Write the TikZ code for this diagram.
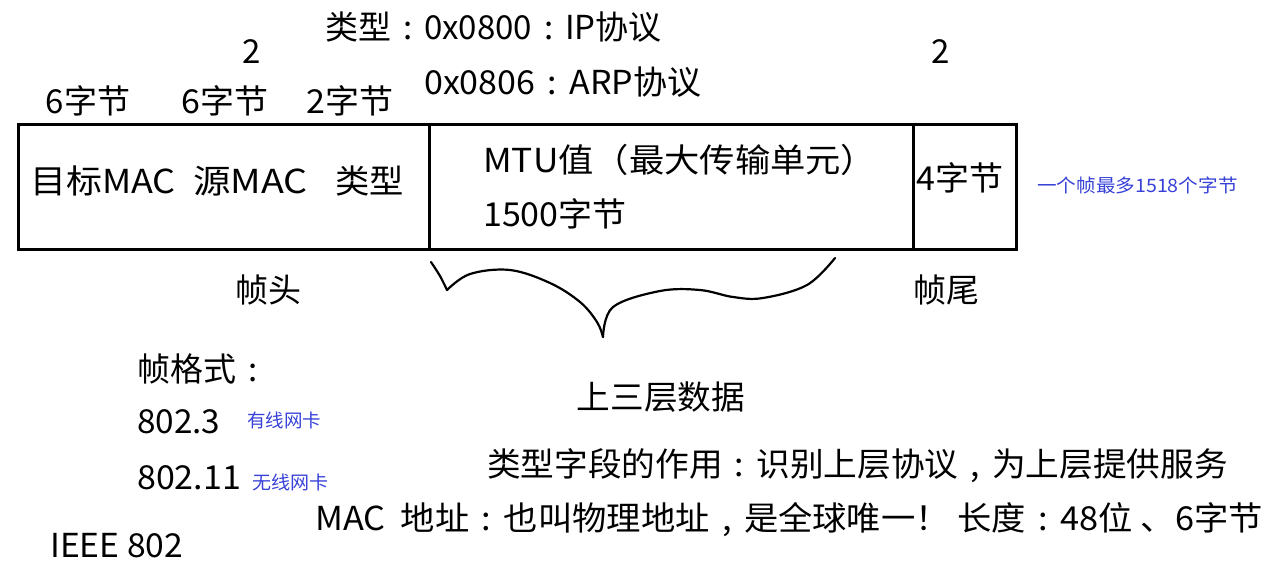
\documentclass[tikz,border=0pt]{standalone}
\usepackage{fontspec}
\usepackage{graphicx}
\setmainfont{Noto Sans CJK SC}
\definecolor{noteblue}{RGB}{55,65,215}
\newcommand\hs[2]{\scalebox{#1}[1]{#2}}
\newcommand\cln{\makebox[1em]{:}}
\newcommand\cma{\makebox[1em]{,}}
\begin{document}
\begin{tikzpicture}[x=1pt,y=-1pt,
  txt/.style={inner sep=0pt,font=\fontsize{33}{38}\selectfont},
  note/.style={inner sep=0pt,text=noteblue,font=\fontsize{18.5}{22}\selectfont},
  frame/.style={draw=black,line width=3pt},
  brace/.style={draw=black,line width=2.2pt,line cap=round,line join=round}]
\useasboundingbox (0,0) rectangle (1280,582);
% frame boxes
\node[frame,minimum width=411pt,minimum height=125pt,inner sep=0pt,anchor=north west] (hdr) at (17,123) {};
\node[frame,minimum width=484pt,minimum height=125pt,inner sep=0pt,anchor=north west] (data) at (428,123) {};
\node[frame,minimum width=103pt,minimum height=125pt,inner sep=0pt,anchor=north west] (tail) at (912,123) {};
% header texts
\node[txt,anchor=west] (dst) at (30,181) {\hs{1.09}{目标MAC}};
\node[txt,anchor=west] (src) at (193,181) {\hs{1.14}{源MAC}};
\node[txt,anchor=west] (typ) at (335,181) {\hs{1.04}{类型}};
\node[txt] (b1) at (88,101) {6字节};
\node[txt] (b2) at (225,101) {\hs{1.03}{6字节}};
\node[txt] (b3) at (350,101) {\hs{1.03}{2字节}};
\node[txt] (two1) at (252,52) {2};
\node[txt] (two2) at (941,52) {2};
\node[txt,anchor=west] (t1) at (325,27) {\hs{1.0}{类型\cln0x0800\cln IP协议}};
\node[txt,anchor=west] (t2) at (424,82) {\hs{1.03}{0x0806\cln ARP协议}};
% data texts
\node[txt,anchor=west] (mtu) at (483,160) {\hs{1.07}{MTU值（最大传输单元）}};
\node[txt,anchor=west] (mtub) at (483,214) {\hs{1.03}{1500字节}};
\node[txt] (fcs) at (960,178) {\hs{1.03}{4字节}};
\node[note,anchor=west] (max) at (1037,185) {\hs{1.06}{一个帧最多1518个字节}};
% labels below
\node[txt] (head) at (268,290) {帧头};
\node[txt] (trail) at (946,290) {帧尾};
\draw[brace] plot[smooth,tension=0.6] coordinates {(431,262) (440,276) (447,290)};
\draw[brace] plot[smooth,tension=0.6] coordinates {(447,290) (470,274) (510,270) (550,283) (580,302) (597,322) (603,337)};
\draw[brace] plot[smooth,tension=0.6] coordinates {(603,337) (613,307) (660,291) (700,290) (733,297) (763,298) (807,285) (835,258)};
\node[txt] (upper) at (661,397) {\hs{1.02}{上三层数据}};
% left notes
\node[txt,anchor=west] (fmt) at (137,369) {帧格式\cln};
\node[txt,anchor=west] (e3) at (137,422) {\hs{1.01}{802.3}};
\node[note,anchor=west] (wired) at (247,420) {有线网卡};
\node[txt,anchor=west] (e11) at (137,478) {\hs{1.03}{802.11}};
\node[note,anchor=west] (wless) at (252,482) {\hs{1.03}{无线网卡}};
\node[txt,anchor=west] (ieee) at (50,546) {\hs{1.02}{IEEE 802}};
% bottom notes
\node[txt,anchor=west] (role) at (487,466) {\hs{1.02}{类型字段的作用\cln 识别上层协议\cma 为上层提供服务}};
\node[txt,anchor=west] (mac) at (315,520) {\hs{1.04}{MAC\ \ 地址\cln 也叫物理地址\cma 是全球唯一！ 长度\cln 48位 、6字节}};
\end{tikzpicture}
\end{document}
